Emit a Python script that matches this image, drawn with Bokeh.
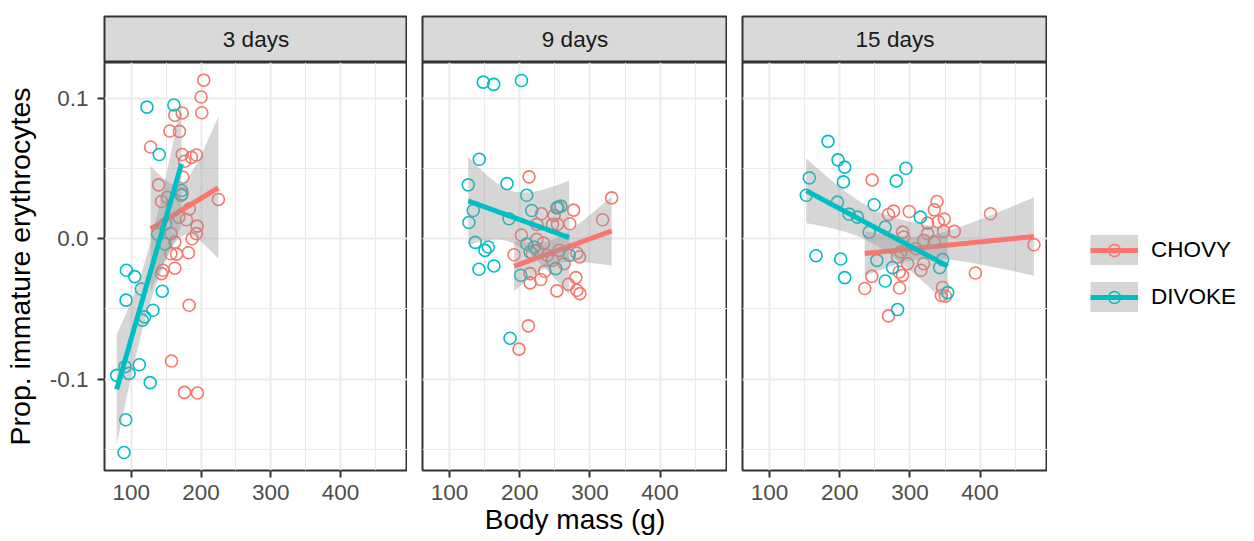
import numpy as np
from bokeh.plotting import figure
from bokeh.models import FixedTicker, Range1d, Legend, LegendItem, PrintfTickFormatter, ColumnDataSource
from bokeh.layouts import row, column
from bokeh.embed import file_html
from bokeh.resources import INLINE
from bokeh.core.properties import value

# ---------------- data ----------------
panel_names = ["3 days", "9 days", "15 days"]
group_names = ["CHOVY", "DIVOKE"]
group_colors = ["#F8766D", "#00BFC4"]
x_ticks = [100, 200, 300, 400]
x_minor = [50, 150, 250, 350, 450]
y_ticks = [-0.1, 0.0, 0.1]
y_minor = [-0.15, -0.05, 0.05, 0.15]
x_title = "Body mass (g)"
y_title = "Prop. immature erythrocytes"

d03_chovy_mass = [203.8, 200, 201, 162.4, 172.9, 155.2, 169, 127.6, 172.9, 176.2, 186.2, 193.3, 173.8, 139,
                  172.9, 143.3, 151.4, 224.8, 183.3, 168, 179, 194.3, 193.3, 187.1, 157, 162.4, 156.7, 164.8,
                  181.9, 145.2, 143.3, 162.4, 182.9, 157.6, 176.2, 194.8]
d03_chovy_prop = [0.113, 0.101, 0.0898, 0.088, 0.0896, 0.0768, 0.0765, 0.0654, 0.060, 0.0552, 0.058, 0.0597,
                  0.0438, 0.0384, 0.032, 0.0265, 0.0296, 0.028, 0.0213, 0.0154, 0.0135, 0.009, 0.0036, 0.0,
                  0.0036, -0.0024, -0.0107, -0.011, -0.010, -0.0225, -0.0249, -0.021, -0.0474, -0.0872,
                  -0.1095, -0.110]
d03_divoke_mass = [122.4, 161, 140, 171.9, 171.4, 149, 137.6, 148, 92.9, 104.8, 114.3, 144.3, 92.4, 131, 119,
                   115.7, 111.4, 91, 96.7, 79, 127, 91.9, 89.5]
d03_divoke_prop = [0.0938, 0.0953, 0.060, 0.0344, 0.031, 0.0107, 0.0033, -0.0038, -0.0225, -0.027, -0.0358,
                   -0.0374, -0.0438, -0.051, -0.0557, -0.058, -0.0898, -0.0912, -0.096, -0.0974, -0.1026,
                   -0.129, -0.1524]

d09_chovy_mass = [213.3, 231, 224.3, 249, 254.8, 276.7, 271.4, 246.7, 253.8, 331, 318.1, 202.4, 224.3, 233.8,
                  191.9, 218.1, 225.2, 239.5, 246.7, 256.2, 263.3, 281.4, 285.2, 235.7, 214.8, 214.8, 230,
                  269.5, 280, 252.9, 281.4, 285.7, 212.4, 199]
d09_chovy_prop = [0.0441, 0.0178, 0.0102, 0.0166, 0.0225, 0.0204, 0.0107, 0.0102, 0.0102, 0.0291, 0.0135,
                  0.0026, -0.0005, -0.0031, -0.0114, -0.0107, -0.0083, -0.0118, -0.0154, -0.0083, -0.0178,
                  -0.0102, -0.013, -0.0232, -0.0249, -0.0315, -0.0291, -0.0325, -0.0277, -0.0372, -0.0367,
                  -0.0391, -0.0621, -0.0787]
d09_divoke_mass = [148.1, 162.9, 202.4, 142.4, 126.7, 181.9, 210, 217.1, 133.8, 127.6, 184.8, 258.6, 252.9,
                   136.7, 155.2, 150.5, 210, 214.8, 220.5, 141.9, 163.3, 201.4, 270.5, 251.4, 186.2]
d09_divoke_prop = [0.1116, 0.110, 0.1128, 0.0566, 0.0384, 0.0393, 0.031, 0.0201, 0.0201, 0.0116, 0.0142,
                   0.0232, 0.022, -0.0026, -0.0059, -0.0083, -0.0038, -0.0095, -0.0059, -0.0218, -0.0194,
                   -0.026, -0.0118, -0.0213, -0.0709]

d15_chovy_mass = [246.2, 338.6, 334.8, 299, 276.7, 269.5, 340.5, 325.2, 348.9, 348, 363.3, 414.8, 289.5, 291,
                  325.2, 319.5, 334.8, 308.6, 287.1, 282.4, 296.7, 319.5, 315.7, 284.8, 289.5, 476.7, 393.3,
                  245.7, 235.7, 285.2, 346.5, 344.8, 350.5, 269.5]
d15_chovy_prop = [0.0419, 0.0265, 0.0206, 0.0194, 0.0197, 0.0173, 0.0121, 0.0111, 0.014, 0.0052, 0.0052,
                  0.0178, 0.0047, 0.0012, 0.0036, -0.0012, -0.0024, -0.0071, -0.0095, -0.013, -0.0178,
                  -0.0178, -0.0225, -0.0237, -0.0261, -0.0043, -0.0244, -0.0268, -0.0355, -0.0351, -0.0348,
                  -0.0405, -0.041, -0.055]
d15_divoke_mass = [183.3, 197.6, 207.1, 205.2, 156.7, 152.4, 294.3, 280.5, 196.7, 213.3, 225.2, 249, 264.8,
                   241.9, 314.8, 166.2, 201.4, 252.9, 275.2, 207.1, 264.8, 342.4, 346.7, 353.8, 282.4]
d15_divoke_prop = [0.0694, 0.0562, 0.051, 0.0405, 0.0434, 0.031, 0.0502, 0.0412, 0.0261, 0.0175, 0.0154,
                   0.0242, 0.0083, 0.0047, 0.0154, -0.0121, -0.0145, -0.0154, -0.0206, -0.0277, -0.0301,
                   -0.0206, -0.0149, -0.0384, -0.0505]

panel_data = [
    [(d03_chovy_mass, d03_chovy_prop), (d03_divoke_mass, d03_divoke_prop)],
    [(d09_chovy_mass, d09_chovy_prop), (d09_divoke_mass, d09_divoke_prop)],
    [(d15_chovy_mass, d15_chovy_prop), (d15_divoke_mass, d15_divoke_prop)],
]

FONT = value("Liberation Sans")


def lm_band(x, y, n=80):
    x = np.asarray(x, float)
    y = np.asarray(y, float)
    m = len(x)
    b, a = np.polyfit(x, y, 1)
    xs = np.linspace(x.min(), x.max(), n)
    fit = a + b * xs
    resid = y - (a + b * x)
    s = np.sqrt(np.sum(resid ** 2) / (m - 2))
    sxx = np.sum((x - x.mean()) ** 2)
    se = s * np.sqrt(1.0 / m + (xs - x.mean()) ** 2 / sxx)
    df = m - 2
    z = 1.959964
    t = z + (z ** 3 + z) / (4 * df) + (5 * z ** 5 + 16 * z ** 3 + 3 * z) / (96 * df ** 2)
    return xs, fit, fit - t * se, fit + t * se


FRAME_W, FRAME_H = 305, 408
BOTTOM = 69
X_RANGE = (61.5, 496.0)
Y_RANGE = (-0.1652, 0.1256)

cols = []
for i, name in enumerate(panel_names):
    left = 102 if i == 0 else 15

    strip = figure(width=left + FRAME_W, height=62, x_range=Range1d(0, 1), y_range=Range1d(0, 1),
                   output_backend="svg", toolbar_location=None, x_axis_location=None, y_axis_location=None,
                   min_border_left=left, min_border_right=0, min_border_top=16, min_border_bottom=0)
    strip.background_fill_color = "#d9d9d9"
    strip.border_fill_color = "white"
    strip.outline_line_color = "#333333"
    strip.outline_line_width = 2
    strip.grid.visible = False
    strip.text(x=[0.5], y=[0.5], text=[name], text_align="center", text_baseline="middle",
               text_font=FONT, text_font_size="22.5px", text_color="#1a1a1a")

    p = figure(width=left + FRAME_W, height=FRAME_H + BOTTOM, x_range=Range1d(*X_RANGE),
               y_range=Range1d(*Y_RANGE), output_backend="svg", toolbar_location=None,
               min_border_left=left, min_border_right=0, min_border_top=0, min_border_bottom=BOTTOM)
    p.background_fill_color = "white"
    p.border_fill_color = "white"
    p.outline_line_color = "#333333"
    p.outline_line_width = 2

    xt = FixedTicker(ticks=x_ticks, minor_ticks=x_minor)
    yt = FixedTicker(ticks=y_ticks, minor_ticks=y_minor)
    p.xaxis.ticker = xt
    p.yaxis.ticker = yt
    p.xgrid.ticker = xt
    p.ygrid.ticker = yt
    for g in (p.xgrid[0], p.ygrid[0]):
        g.grid_line_color = "#ebebeb"
        g.grid_line_width = 2
        g.minor_grid_line_color = "#ebebeb"
        g.minor_grid_line_width = 1

    for ax in (p.xaxis[0], p.yaxis[0]):
        ax.axis_line_color = None
        ax.major_tick_line_color = "#333333"
        ax.major_tick_line_width = 2
        ax.major_tick_out = 7
        ax.major_tick_in = 0
        ax.minor_tick_line_color = None
        ax.major_label_text_font = "Liberation Sans"
        ax.major_label_text_font_size = "22.5px"
        ax.major_label_text_color = "#4d4d4d"
    p.xaxis[0].major_label_standoff = 7
    p.yaxis[0].major_label_standoff = 9
    p.yaxis[0].formatter = PrintfTickFormatter(format="%.1f")

    xa = p.xaxis[0]
    xa.axis_label = x_title
    xa.axis_label_text_font = "Liberation Sans"
    xa.axis_label_text_font_size = "28px"
    xa.axis_label_text_font_style = "normal"
    xa.axis_label_standoff = 1
    xa.axis_label_text_color = "black" if i == 1 else None

    if i == 0:
        ya = p.yaxis[0]
        ya.axis_label = y_title
        ya.axis_label_text_font = "Liberation Sans"
        ya.axis_label_text_font_size = "28.5px"
        ya.axis_label_text_font_style = "normal"
        ya.axis_label_text_color = "black"
        ya.axis_label_standoff = 11
    else:
        p.yaxis[0].visible = False

    # points
    for (mx, my), col in zip(panel_data[i], group_colors):
        p.scatter(x=mx, y=my, marker="circle", size=12, fill_color=None, line_color=col, line_width=1.6)
    # smooths (ribbon + line per group)
    for (mx, my), col in zip(panel_data[i], group_colors):
        xs, fit, lo, hi = lm_band(mx, my)
        src = ColumnDataSource(dict(x=xs, fit=fit, lo=lo, hi=hi))
        p.varea(x="x", y1="lo", y2="hi", source=src, fill_color="#999999", fill_alpha=0.4)
        p.line(x="x", y="fit", source=src, line_color=col, line_width=5)

    cols.append(column(strip, p, spacing=0))

# legend figure
LEG_H = 62 + FRAME_H + BOTTOM
leg = figure(width=199, height=LEG_H, x_range=Range1d(0, 1), y_range=Range1d(0, 1), output_backend="svg",
             toolbar_location=None, x_axis_location=None, y_axis_location=None,
             min_border_left=0, min_border_right=0, min_border_top=0, min_border_bottom=0)
leg.outline_line_color = None
leg.grid.visible = False
items = []
nan = [float("nan")]
for gname, col in zip(group_names, group_colors):
    bg = leg.line(x=nan, y=nan, line_color="#999999", line_alpha=0.4, line_width=47, line_cap="butt")
    ln = leg.line(x=nan, y=nan, line_color=col, line_width=5)
    pt = leg.scatter(x=nan, y=nan, marker="circle", size=12, fill_color=None, line_color=col, line_width=1.6)
    items.append(LegendItem(label=gname, renderers=[bg, ln, pt]))
legend = Legend(items=items, location=(43, LEG_H - 312), glyph_width=48, glyph_height=30, spacing=17,
                padding=0, margin=0, label_standoff=13, label_text_font="Liberation Sans",
                label_text_font_size="22.5px", label_text_color="black", border_line_color=None,
                background_fill_alpha=0)
leg.add_layout(legend, "center")

layout = row(*cols, leg, spacing=0)
open("out.html", "w").write(file_html(layout, INLINE))
